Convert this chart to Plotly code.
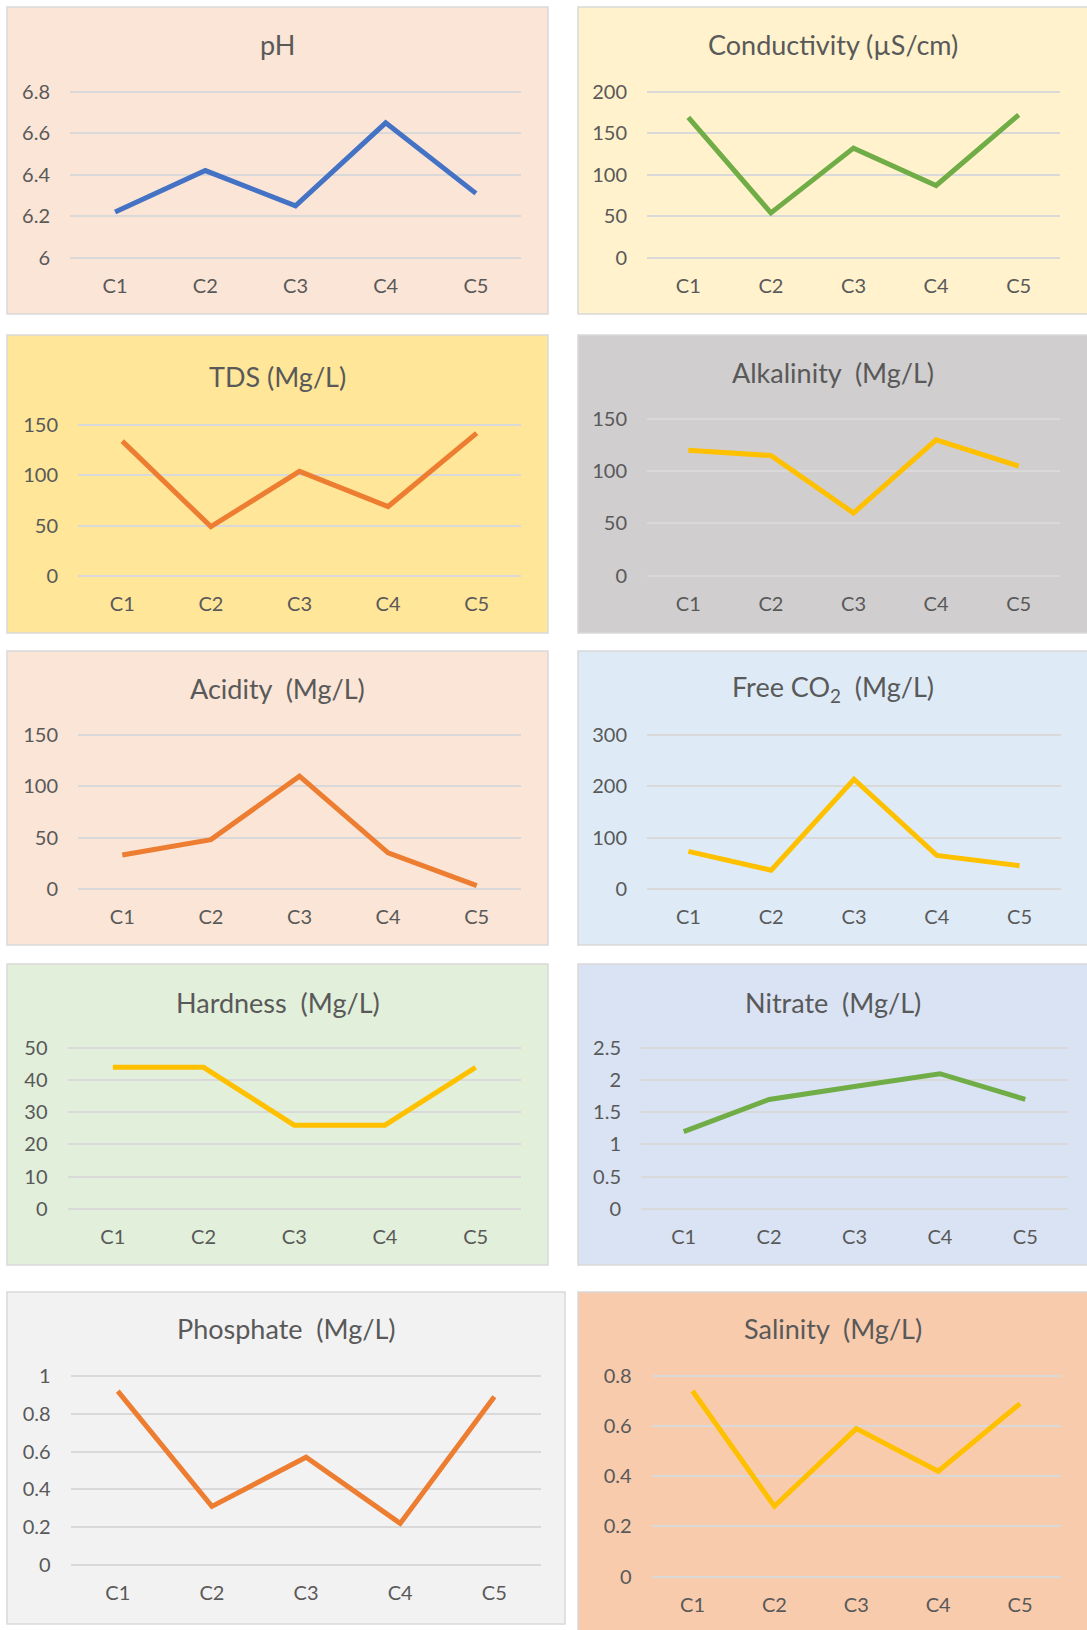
import plotly.graph_objects as go

# ---------------- data ----------------
categories = ["C1", "C2", "C3", "C4", "C5"]
ph = [6.22, 6.42, 6.25, 6.65, 6.31]
conductivity = [169, 54, 132, 87, 172]
tds = [134, 49, 104, 69, 142]
alkalinity = [120, 115, 60, 130, 105]
acidity = [33, 48, 110, 35, 3]
free_co2 = [73, 36, 214, 65, 45]
hardness = [44, 44, 26, 26, 44]
nitrate = [1.2, 1.7, 1.9, 2.1, 1.7]
phosphate = [0.92, 0.31, 0.57, 0.22, 0.89]
salinity = [0.74, 0.28, 0.59, 0.42, 0.69]

titles = ["pH", "Conductivity (µS/cm)", "TDS (Mg/L)", "Alkalinity\u00a0\u00a0(Mg/L)",
          "Acidity\u00a0\u00a0(Mg/L)", "Free CO<sub>2</sub>\u00a0\u00a0(Mg/L)",
          "Hardness\u00a0\u00a0(Mg/L)", "Nitrate\u00a0\u00a0(Mg/L)",
          "Phosphate\u00a0\u00a0(Mg/L)", "Salinity\u00a0\u00a0(Mg/L)"]
series = [ph, conductivity, tds, alkalinity, acidity, free_co2, hardness, nitrate, phosphate, salinity]
y_min = [6, 0, 0, 0, 0, 0, 0, 0, 0, 0]
y_max = [6.8, 200, 150, 150, 150, 300, 50, 2.5, 1, 0.8]
y_step = [0.2, 50, 50, 50, 50, 100, 10, 0.5, 0.2, 0.2]

# ---------------- styling / layout ----------------
W, H = 1087, 1630
line_colors = ["#4472C4", "#70AD47", "#ED7D31", "#FFC000", "#ED7D31",
               "#FFC000", "#FFC000", "#70AD47", "#ED7D31", "#FFC000"]
bg_colors = ["#FBE5D6", "#FFF2CC", "#FFE699", "#D0CECE", "#FBE5D6",
             "#DEEBF7", "#E2EFDA", "#DAE3F3", "#F2F2F2", "#F8CBAD"]
# page-pixel boxes: panel (x0, y0, x1, y1), plot (x0, ytop, x1, ybottom), title y
panel_box = [
    (7, 7, 548, 314), (578, 7, 1092, 314),
    (7, 335, 548, 633), (578, 335, 1092, 633),
    (7, 651, 548, 945), (578, 651, 1092, 945),
    (7, 964, 548, 1265), (578, 964, 1092, 1265),
    (7, 1292, 565, 1624), (578, 1292, 1092, 1636),
]
plot_box = [
    (70, 91.7, 521, 257.7), (647, 91.7, 1060, 257.7),
    (78, 425, 521, 576), (647, 419, 1060, 575.7),
    (78, 735.3, 521, 888.7), (647, 735.3, 1061, 888.7),
    (67.5, 1048, 521, 1208.7), (641, 1048, 1068, 1208.7),
    (70.7, 1376, 541.4, 1565), (651.6, 1376, 1061, 1576.5),
]
title_y = [45, 45, 376, 372, 688, 688, 1002, 1002, 1328, 1328]

FONT = "Lato, Open Sans, sans-serif"
TXT = "#595959"
GRID = "#D9D9D9"
PAD = 4  # px of slack above/below the outer gridlines so they are drawn


def fx(p):
    return p / W


def fy(p):
    return 1 - p / H


fig = go.Figure()
shapes = []
annotations = []
layout_axes = {}

for i in range(10):
    n = "" if i == 0 else str(i + 1)
    fig.add_trace(go.Scatter(
        x=categories, y=series[i], mode="lines",
        line=dict(color=line_colors[i], width=5),
        xaxis="x" + n, yaxis="y" + n, showlegend=False, hoverinfo="x+y"))
    px0, py0, px1, py1 = panel_box[i]
    shapes.append(dict(type="rect", xref="paper", yref="paper",
                       x0=fx(px0), x1=fx(px1), y0=fy(py1), y1=fy(py0),
                       fillcolor=bg_colors[i], line=dict(color=GRID, width=1.5),
                       layer="below"))
    ax0, ayt, ax1, ayb = plot_box[i]
    span = y_max[i] - y_min[i]
    eps = span * PAD / (ayb - ayt)
    layout_axes["xaxis" + n] = dict(
        domain=[fx(ax0), fx(ax1)], anchor="y" + n, type="category",
        range=[-0.5, 4.5], showgrid=False, zeroline=False, showline=False,
        ticks="", ticklabelstandoff=14 - PAD, automargin=False,
        tickfont=dict(family=FONT, size=20, color=TXT), fixedrange=True)
    layout_axes["yaxis" + n] = dict(
        domain=[fy(ayb + PAD), fy(ayt - PAD)], anchor="x" + n,
        range=[y_min[i] - eps, y_max[i] + eps], tickmode="linear",
        tick0=y_min[i], dtick=y_step[i], automargin=False,
        showgrid=True, gridcolor=GRID, gridwidth=1.5, zeroline=False,
        showline=False, ticks="", ticklabelstandoff=19,
        tickfont=dict(family=FONT, size=20, color=TXT), fixedrange=True)
    annotations.append(dict(xref="paper", yref="paper",
                            x=fx((px0 + min(px1, W)) / 2),
                            y=fy(title_y[i]), text=titles[i], showarrow=False,
                            xanchor="center", yanchor="middle",
                            font=dict(family=FONT, size=27, color=TXT)))

fig.update_layout(
    template="none",
    width=W, height=H, margin=dict(l=0, r=0, t=0, b=0, pad=0),
    paper_bgcolor="white", plot_bgcolor="rgba(0,0,0,0)",
    shapes=shapes, annotations=annotations, **layout_axes)

fig.write_html(
    "out.html",
    config={"displayModeBar": False},
    post_script="document.body.style.margin='0';document.body.style.overflow='hidden';")
